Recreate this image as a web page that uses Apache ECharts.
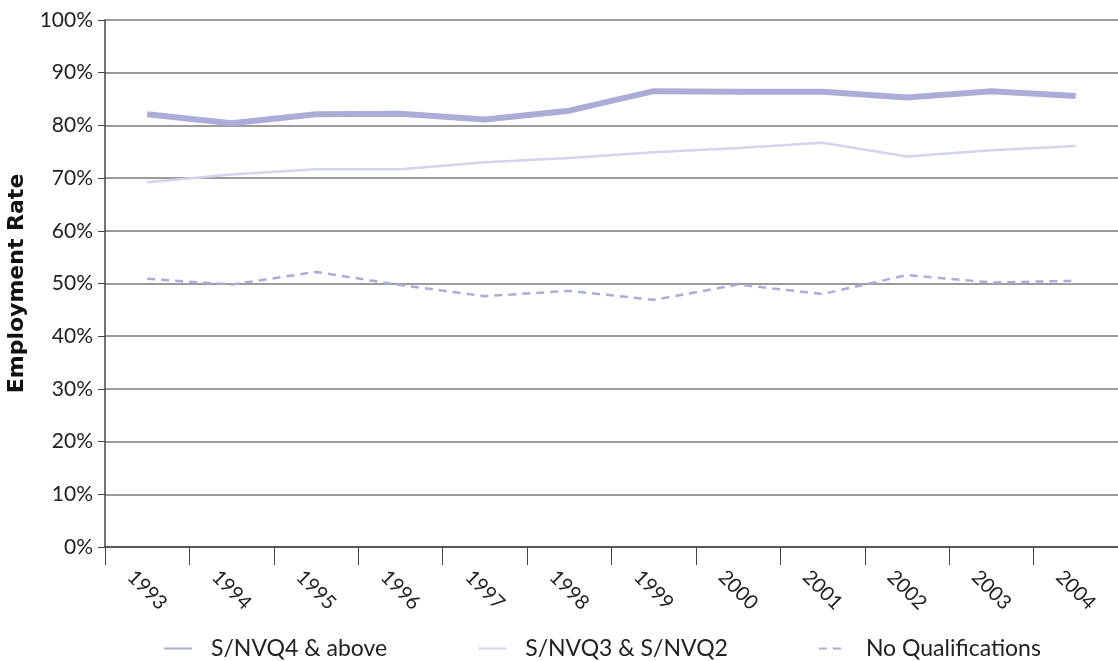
<!DOCTYPE html>
<html>
<head>
<meta charset="utf-8">
<script src="https://cdn.jsdelivr.net/npm/echarts@6/dist/echarts.min.js"></script>
<style>
  html, body { margin: 0; padding: 0; background: #fff; }
  #chart { width: 1118px; height: 661px; }
</style>
</head>
<body>
<div id="chart"></div>
<script>
const years = ['1993', '1994', '1995', '1996', '1997', '1998', '1999', '2000', '2001', '2002', '2003', '2004']
const nvq4 = [82.1, 80.4, 82.1, 82.2, 81.1, 82.8, 86.5, 86.4, 86.4, 85.3, 86.5, 85.6]
const nvq32 = [69.2, 70.7, 71.7, 71.7, 73.0, 73.8, 74.9, 75.7, 76.7, 74.1, 75.3, 76.1]
const noQual = [50.9, 49.8, 52.2, 49.7, 47.6, 48.6, 46.9, 49.8, 48.0, 51.6, 50.2, 50.5]

const fontFamily = 'Lato, "Open Sans", sans-serif'
const chart = echarts.init(document.getElementById('chart'))

chart.setOption({
  animation: false,
  textStyle: { fontFamily },
  grid: { left: 105, right: 0, top: 20, bottom: 114, containLabel: false, outerBoundsMode: 'none' },
  legend: {
    top: 632,
    left: 158,
    itemWidth: 28,
    itemHeight: 12,
    itemGap: 90,
    itemStyle: { color: 'transparent', borderColor: 'transparent', borderWidth: 0 },
    textStyle: { fontSize: 23, color: '#222', fontFamily, padding: [0, 0, 0, 14] },
    data: ['S/NVQ4 & above', 'S/NVQ3 & S/NVQ2', 'No Qualifications']
  },
  xAxis: {
    type: 'category',
    data: years,
    boundaryGap: true,
    axisLine: { lineStyle: { color: '#444', width: 1.5 } },
    axisTick: { show: true, length: 18, lineStyle: { color: '#444', width: 1 } },
    axisLabel: {
      rotate: -45,
      align: 'center',
      verticalAlign: 'middle',
      margin: 43,
      fontSize: 20,
      color: '#222',
      fontFamily
    }
  },
  yAxis: {
    type: 'value',
    min: 0,
    max: 100,
    interval: 10,
    name: 'Employment Rate',
    nameLocation: 'middle',
    nameGap: 73,
    nameTextStyle: { fontSize: 22, fontWeight: 'bold', color: '#111', fontFamily: '"DejaVu Sans", sans-serif' },
    axisLine: { show: true, lineStyle: { color: '#444', width: 1.5 } },
    axisTick: { show: true, length: 7, lineStyle: { color: '#444' } },
    axisLabel: { formatter: '{value}%', fontSize: 21, color: '#222', margin: 12, fontFamily },
    splitLine: { lineStyle: { color: '#7a7a7a', width: 1.5 } }
  },
  series: [
    {
      name: 'S/NVQ4 & above',
      type: 'line',
      data: nvq4,
      symbol: 'none',
      lineStyle: { color: '#acacd9', width: 6 },
      itemStyle: { color: '#acacd9' }
    },
    {
      name: 'S/NVQ3 & S/NVQ2',
      type: 'line',
      data: nvq32,
      symbol: 'none',
      lineStyle: { color: '#d3d3ee', width: 2.5 },
      itemStyle: { color: '#d3d3ee' }
    },
    {
      name: 'No Qualifications',
      type: 'line',
      data: noQual,
      symbol: 'none',
      lineStyle: { color: '#acacd9', width: 2.5, type: [8, 6] },
      itemStyle: { color: '#acacd9' }
    }
  ]
})
</script>
</body>
</html>
